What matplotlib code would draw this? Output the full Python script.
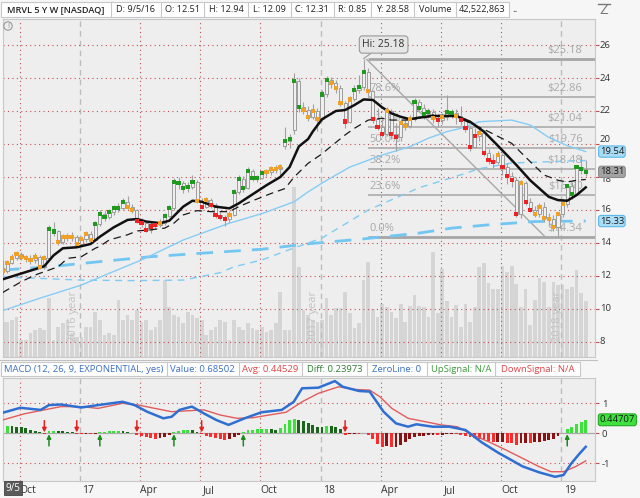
import matplotlib
matplotlib.use('Agg')
import matplotlib.pyplot as plt
from matplotlib.patches import Rectangle, Circle
from matplotlib.transforms import blended_transform_factory

plt.rcParams['font.family'] = ['Open Sans', 'DejaVu Sans']

# ---------------- data (weekly bars, index 0 = week of 9/5/16) ----------------
opens = [12.51, 12.31, 12.80, 13.07, 13.33, 13.17, 13.07, 12.97, 13.13, 12.56,
         13.07, 14.85, 14.70, 14.08, 14.38, 14.38, 14.38, 13.94, 14.22, 14.55,
         14.18, 15.15, 15.76, 15.58, 15.86, 16.10, 16.14, 16.47, 16.20, 16.00,
         15.35, 15.20, 14.77, 15.00, 15.10, 15.23, 15.64, 16.10, 17.72, 17.62,
         17.31, 17.41, 17.72, 16.56, 16.20, 16.60, 16.32, 15.68, 15.60, 15.44,
         15.72, 17.07, 17.90, 17.33, 18.38, 17.94, 17.94, 18.26, 18.32, 18.47,
         18.48, 19.90, 20.18, 20.85, 23.80, 22.24, 22.06, 21.66, 22.00, 21.50,
         23.00, 23.86, 23.72, 23.38, 22.47, 21.36, 22.70, 23.27, 23.44, 24.35,
         23.21, 21.53, 21.05, 20.59, 22.00, 20.59, 20.40, 21.25, 21.09, 21.53,
         22.56, 22.20, 21.80, 21.96, 21.60, 21.45, 21.66, 21.92, 21.90, 21.70,
         21.45, 20.95, 19.84, 20.50, 20.68, 19.47, 19.03, 18.89, 19.33, 18.62,
         18.06, 17.82, 15.74, 17.62, 16.47, 16.00, 15.74, 16.20, 15.50, 15.44,
         14.95, 15.76, 16.35, 17.45, 16.97, 18.62, 18.47]
highs = [12.94, 12.95, 13.35, 13.50, 13.45, 13.30, 13.25, 13.40, 13.25, 13.30,
         15.10, 15.25, 14.80, 14.55, 14.60, 14.65, 14.50, 14.40, 14.75, 14.70,
         15.35, 16.00, 15.95, 16.05, 16.30, 16.40, 16.75, 16.85, 16.35, 16.05,
         15.50, 15.35, 15.30, 15.35, 15.45, 15.80, 16.30, 17.95, 18.00, 17.75,
         17.70, 18.10, 17.80, 16.70, 16.80, 16.75, 16.40, 15.90, 15.70, 15.95,
         17.25, 18.10, 18.05, 18.60, 18.50, 18.15, 18.45, 18.50, 18.65, 18.75,
         18.80, 21.00, 20.60, 24.30, 24.00, 22.55, 22.30, 22.40, 22.20, 23.25,
         24.10, 24.05, 23.90, 23.55, 22.60, 22.90, 23.60, 24.20, 25.18, 24.60,
         23.30, 22.20, 21.60, 22.25, 22.10, 21.30, 21.50, 21.50, 21.75, 22.80,
         22.70, 22.40, 22.20, 22.10, 21.80, 21.90, 22.95, 22.15, 22.10, 22.30,
         21.60, 21.10, 20.95, 21.00, 20.80, 19.70, 19.40, 19.60, 19.45, 18.85,
         18.30, 18.00, 17.80, 17.75, 16.70, 16.25, 16.40, 16.50, 15.80, 15.70,
         15.90, 16.55, 17.60, 17.70, 18.75, 19.25, 19.05]
lows = [12.09, 12.20, 12.70, 12.95, 12.95, 12.85, 12.75, 12.80, 12.40, 12.45,
        13.00, 14.45, 13.90, 13.95, 14.10, 14.15, 13.75, 13.80, 14.05, 14.00,
        14.10, 15.00, 15.35, 15.45, 15.70, 15.90, 16.00, 16.05, 15.80, 15.20,
        14.95, 14.65, 14.60, 14.85, 14.95, 15.10, 15.55, 16.00, 17.30, 17.05,
        17.10, 17.25, 16.40, 16.05, 16.10, 16.15, 15.50, 15.40, 15.05, 15.30,
        15.65, 16.95, 17.10, 17.25, 17.75, 17.70, 17.85, 18.05, 18.15, 18.25,
        18.00, 19.70, 19.75, 20.60, 21.95, 21.80, 21.40, 21.50, 20.80, 21.40,
        22.85, 23.40, 23.10, 22.30, 20.95, 21.30, 22.60, 23.10, 23.30, 22.90,
        21.30, 20.85, 20.40, 20.50, 20.30, 19.60, 20.20, 20.85, 20.95, 21.40,
        21.95, 21.50, 21.60, 21.30, 21.05, 21.20, 21.45, 21.55, 21.20, 21.15,
        20.70, 19.60, 19.75, 20.20, 19.30, 18.80, 18.55, 18.80, 18.10, 17.60,
        17.40, 15.55, 15.50, 16.30, 15.85, 15.55, 15.60, 15.30, 15.10, 14.70,
        14.34, 15.60, 16.20, 16.65, 16.90, 18.20, 18.05]
closes = [12.31, 12.80, 13.07, 13.33, 13.17, 13.07, 12.97, 13.13, 12.56, 13.07,
          14.85, 14.70, 14.08, 14.38, 14.38, 14.38, 13.94, 14.22, 14.55, 14.18,
          15.15, 15.76, 15.58, 15.86, 16.10, 16.14, 16.47, 16.20, 16.00, 15.35,
          15.20, 14.77, 15.00, 15.10, 15.23, 15.64, 16.10, 17.72, 17.62, 17.31,
          17.41, 17.72, 16.56, 16.20, 16.60, 16.32, 15.68, 15.60, 15.44, 15.72,
          17.07, 17.90, 17.33, 18.38, 17.94, 17.94, 18.26, 18.32, 18.47, 18.48,
          18.59, 20.18, 20.32, 23.80, 22.24, 22.06, 21.66, 22.00, 21.50, 23.00,
          23.86, 23.72, 23.38, 22.47, 21.36, 22.70, 23.27, 23.44, 24.35, 23.21,
          21.53, 21.05, 20.59, 22.00, 20.59, 20.40, 21.25, 21.09, 21.53, 22.56,
          22.20, 21.80, 21.96, 21.60, 21.45, 21.66, 21.92, 21.90, 21.70, 21.45,
          20.95, 19.84, 20.50, 20.68, 19.47, 19.03, 18.89, 19.33, 18.62, 18.06,
          17.82, 15.74, 17.62, 16.47, 16.00, 15.74, 16.20, 15.50, 15.44, 14.95,
          15.76, 16.35, 17.45, 16.97, 18.62, 18.47, 18.31]
# dot colour code per bar: O = orange, G = green, R = red
dot_codes = ("OOOOOOOOOO" "GG" "OOOOOOOO" "GGGGGGG" "OO" "RRRRR" "O" "GGGGGGG"
             "O" "R" "O" "RRRR" "O" "GGGGGGG" "OOOO" "GGGG" "OOOO" "GG" "OOO"
             "R" "O" "GGG" "O" "RRR" "O" "RR" "OOO" "GGGG" "O" "R" "O" "GG" "O"
             "RRRR" "O" "RRR" "O" "RRRR" "O" "RR" "OOOOOOO" "GGGGG")
# weekly volume, millions
volume = [42.5, 42.4, 44.8, 48.4, 20.6, 20.6, 29.1, 32.7, 35.1, 32.7,
          71.4, 20.6, 36.3, 41.2, 44.8, 29.1, 24.2, 24.2, 36.3, 36.3,
          54.5, 44.8, 26.6, 29.1, 26.6, 69.0, 44.8, 50.8, 44.8, 56.9,
          42.4, 44.8, 32.7, 36.3, 44.8, 93.2, 60.5, 50.8, 48.4, 41.2,
          54.5, 50.8, 47.2, 44.8, 26.6, 32.7, 36.3, 44.8, 42.4, 20.6,
          44.8, 36.3, 32.7, 41.2, 35.1, 32.7, 36.3, 30.3, 32.7, 41.2,
          78.7, 32.7, 32.7, 205.7, 108.9, 56.9, 50.8, 44.8, 42.4, 44.8,
          71.4, 50.8, 59.3, 59.3, 78.7, 53.2, 35.1, 41.2, 93.2, 115.0,
          58.1, 48.4, 64.1, 60.5, 54.5, 47.2, 64.1, 42.4, 61.7, 75.0,
          61.7, 60.5, 48.4, 127.1, 53.2, 106.5, 67.8, 48.4, 62.9, 36.3,
          64.1, 42.4, 60.5, 108.9, 113.7, 89.5, 82.3, 82.3, 110.1, 102.9,
          110.1, 88.3, 60.5, 82.3, 38.7, 69.0, 95.6, 90.8, 60.5, 90.8,
          87.1, 87.1, 82.3, 84.7, 105.3, 77.4, 67.8]

# moving averages read at selected bars (bar index, value)
ema_fast_idx = [0, 4, 8, 9, 11, 13, 16, 19, 21, 24, 27, 29, 31, 34, 36, 39, 41, 43, 46, 49,
                51, 54, 57, 60, 62, 64, 66, 67, 69, 72, 74, 76, 78, 80, 82, 84, 86, 88, 90,
                93, 96, 98, 101, 104, 107, 111, 114, 118, 120, 122, 124, 126]
ema_fast_val = [11.8, 12.15, 12.5, 12.6, 13.25, 13.68, 13.74, 13.94, 14.38, 14.95, 15.4, 15.45,
                15.3, 15.2, 15.35, 16.2, 16.56, 16.5, 16.2, 16.1, 16.4, 16.95, 17.5, 18.0, 18.6,
                19.85, 20.3, 20.75, 21.5, 22.0, 22.06, 22.36, 22.7, 22.67, 22.22, 21.86, 21.65,
                21.5, 21.6, 21.7, 21.7, 21.7, 21.35, 20.75, 19.9, 18.73, 17.8, 16.8, 16.6, 16.56,
                16.9, 17.37]
ma_dash_idx = [0, 4, 7, 12, 14, 17, 20, 21, 23, 27, 29, 32, 35, 37, 39, 42, 45, 49, 51, 54,
               58, 61, 63, 66, 69, 70, 74, 76, 79, 82, 84, 88, 93, 98, 102, 105, 110, 114,
               117, 120, 122, 124, 126]
ma_dash_val = [11.0, 11.65, 12.06, 12.56, 13.07, 13.17, 13.68, 13.8, 14.18, 14.5, 14.73, 14.8,
               14.9, 15.2, 15.7, 15.96, 15.9, 15.9, 16.2, 16.56, 17.0, 17.3, 18.0, 18.83, 19.4,
               19.64, 20.55, 20.95, 21.45, 21.56, 21.45, 21.45, 21.76, 21.65, 21.15, 20.75,
               20.04, 18.93, 18.12, 17.8, 17.7, 17.8, 17.85]
sma50_idx = [0, 8, 17, 23, 30, 39, 43, 49, 56, 63, 66, 70, 75, 82, 88, 92, 96, 99, 103, 110,
             114, 118, 122, 126]
sma50_val = [9.9, 10.65, 11.45, 12.16, 12.97, 14.18, 14.59, 15.2, 15.78, 16.5, 17.1, 17.8,
             18.6, 19.33, 19.84, 20.35, 20.75, 20.95, 21.35, 21.45, 21.15, 20.4, 19.9, 19.54]
ema100_idx = [0, 4, 17, 28, 39, 47, 50, 56, 62, 69, 79, 90, 97, 103, 110, 126]
ema100_val = [11.95, 11.9, 11.75, 11.72, 11.75, 12.2, 12.56, 12.97, 13.6, 14.3, 16.0, 17.35,
              17.95, 18.5, 18.85, 19.0]
sma200_idx = [0, 10, 21, 32, 43, 56, 66, 78, 90, 97, 105, 115, 126]
sma200_val = [12.36, 12.56, 12.87, 13.17, 13.38, 13.62, 13.95, 14.25, 14.6, 14.9, 15.1, 15.3, 15.33]

# Fibonacci retracement
fib_start = 78.9
fib_levels = [25.18, 22.86, 21.04, 19.76, 18.48, 16.90, 14.34]
fib_pcts = ['', '78.6%', '61.8%', '50.0%', '38.2%', '23.6%', '0.0%']
trend_x = [78.67, 117.2]
trend_y = [25.13, 14.38]

# MACD (12, 26, 9)
macd_idx = [0, 3.8, 8.2, 10, 12.6, 17, 20.6, 25.9, 28.5, 31.2, 34.7, 36.5, 38.2, 40.9, 43.5,
            46.2, 48.8, 52.3, 55.9, 60.3, 62.9, 64.7, 68.2, 71.8, 73.5, 77, 79.3, 82.3, 85,
            87.6, 89.4, 92.9, 96.5, 100, 103.5, 107.1, 110.6, 112.3, 115.9, 119.4, 121.2,
            122.9, 124.7, 126]
macd_val = [0.685, 0.85, 0.78, 0.94, 0.96, 0.86, 0.94, 1.05, 0.94, 0.72, 0.50, 0.55, 0.78,
            0.89, 0.66, 0.44, 0.28, 0.50, 0.70, 0.78, 1.05, 1.50, 1.52, 1.74, 1.55, 1.41, 1.39,
            0.72, 0.33, 0.22, 0.30, 0.22, 0.22, 0.11, -0.30, -0.65, -0.95, -1.10, -1.30,
            -1.45, -1.39, -1.0, -0.67, -0.45]
avg_idx = [0, 4.7, 12.6, 17, 20.6, 25.9, 29.4, 32.9, 36.5, 40, 43.5, 47, 50.6, 54.1, 57.6,
           61.2, 64.7, 68.2, 72.6, 76.2, 79.3, 81.5, 84.1, 87.6, 91.2, 94.7, 98.2, 101.7,
           105.3, 108.8, 112.3, 115.9, 118.5, 121.2, 123.8, 126]
avg_val = [0.445, 0.65, 0.89, 0.89, 0.83, 1.0, 0.94, 0.83, 0.72, 0.75, 0.78, 0.61, 0.50, 0.52,
           0.61, 0.70, 1.05, 1.33, 1.55, 1.46, 1.44, 1.22, 0.83, 0.50, 0.39, 0.28, 0.22, -0.06,
           -0.30, -0.56, -0.83, -1.11, -1.28, -1.28, -1.11, -0.92]
diff = [0.24, 0.24, 0.23, 0.22, 0.20, 0.16, 0.12, 0.08, 0.03, -0.01,
        0.06, 0.09, 0.07, 0.06, 0.05, 0.03, -0.01, -0.02, -0.01, -0.02,
        -0.01, 0.03, 0.04, 0.06, 0.07, 0.07, 0.06, 0.05, 0.02, -0.05,
        -0.10, -0.14, -0.17, -0.18, -0.15, -0.12, -0.06, 0.04, 0.09, 0.12,
        0.12, 0.10, 0.04, -0.03, -0.08, -0.12, -0.17, -0.20, -0.22, -0.18,
        -0.12, -0.05, 0.04, 0.10, 0.12, 0.13, 0.14, 0.14, 0.13, 0.12,
        0.18, 0.30, 0.45, 0.48, 0.45, 0.40, 0.34, 0.27, 0.22, 0.20,
        0.25, 0.24, 0.20, 0.14, -0.05, -0.03, -0.02, -0.03, 0.0, -0.05,
        -0.20, -0.35, -0.45, -0.42, -0.45, -0.45, -0.38, -0.30, -0.20, -0.12,
        -0.10, -0.10, -0.07, -0.06, -0.07, -0.05, -0.03, -0.02, -0.03, -0.05,
        -0.08, -0.12, -0.16, -0.20, -0.24, -0.27, -0.30, -0.30, -0.30, -0.33,
        -0.34, -0.38, -0.32, -0.32, -0.33, -0.30, -0.28, -0.25, -0.22, -0.18,
        -0.10, 0.02, 0.15, 0.22, 0.32, 0.38, 0.45]
diff_last_label = '0.44707'
down_arrows = [9, 16, 29, 43, 74]
up_arrows = [10, 21, 37, 52, 122]

# price axis tick labels
price_ticks = list(range(8, 27, 2))

# time axis
month_weeks = [4, 17, 30, 43, 56, 69, 82, 95, 108, 121]
month_labels = ['Oct', '17', 'Apr', 'Jul', 'Oct', '18', 'Apr', 'Jul', 'Oct', '19']
year_label_x = [15.2, 67.1, 120.0]
year_labels = ['2016 year', '2017 year', '2018 year']

# ---------------- figure ----------------
W, H = 640, 498
fig = plt.figure(figsize=(6.4, 4.98), dpi=100, facecolor='#f6f6f6')


def rect(l, t, r, b):
    return [l / W, 1 - b / H, (r - l) / W, (b - t) / H]


XLIM = (0.065, 128.0)
BG = '#eeeeee'
GRID_RED = '#c25050'

ax_v = fig.add_axes(rect(3, 19, 595, 357))
ax_v.set_xlim(*XLIM)
ax_v.set_ylim(0, 409)
ax_v.axis('off')
ax_v.add_patch(Rectangle((0, 0), 1, 1, transform=ax_v.transAxes, fc=BG, ec='none', zorder=0))
ax_v.bar(range(len(volume)), volume, width=0.8, color='#d5d5d5', zorder=1)

ax = fig.add_axes(rect(3, 19, 595, 357))
ax.patch.set_alpha(0)
ax.set_xlim(*XLIM)
ax.set_ylim(7.09, 27.576)

ax2 = fig.add_axes(rect(3, 378, 595, 481))
ax2.set_facecolor(BG)
ax2.set_xlim(*XLIM)
ax2.set_ylim(-1.59, 1.843)

for a in (ax, ax2):
    for s in a.spines.values():
        s.set_color('#c8c8c8')
        s.set_linewidth(0.8)
    a.yaxis.tick_right()
    a.tick_params(axis='y', length=3, width=0.8, color=GRID_RED, labelsize=6.8,
                  labelcolor='#333333', pad=2)
    for k, w in enumerate(month_weeks):
        if month_labels[k] in ('17', '18', '19'):
            a.axvline(w - 0.3, color='#bcbcbc', lw=1.0, dashes=(4, 3), zorder=1.5)
        else:
            a.axvline(w - 0.3, color=GRID_RED, lw=0.8, dashes=(1, 3), zorder=1.5)

ax.set_xticks([])
ax.set_yticks(price_ticks)
ax.set_yticklabels([])
bt = blended_transform_factory(ax.transAxes, ax.transData)
# tick labels; those next to a value box are nudged aside as the platform does
nudge = {20: 4, 18: -3}
for yv in price_ticks:
    ax.axhline(yv, color=GRID_RED, lw=0.8, dashes=(1, 3), zorder=1.5)
    ax.annotate(str(yv), (1.0, yv), xycoords=bt, xytext=(5, nudge.get(yv, 0)),
                textcoords='offset pixels', ha='left', va='center', fontsize=6.8,
                color='#333333', annotation_clip=False)

# year labels
for xv, t in zip(year_label_x, year_labels):
    ax.text(xv, 8.0, t, rotation=90, ha='center', va='bottom', fontsize=8,
            color='#c2c2c2', zorder=1.6)

# Fibonacci lines
for k, (lv, pc) in enumerate(zip(fib_levels, fib_pcts)):
    lw = 2.0 if k in (0, len(fib_levels) - 1) else 1.1
    ax.plot([fib_start, XLIM[1]], [lv, lv], color='#a6a6a6', lw=lw, zorder=2,
            solid_capstyle='butt')
    if pc:
        ax.annotate(pc, (fib_start + 0.2, lv), xytext=(1, 3), textcoords='offset pixels',
                    ha='left', va='bottom', fontsize=8, color='#a8a8a8', zorder=2.2)
    ax.annotate('$%.2f' % lv, (125.3, lv), xytext=(0, 3), textcoords='offset pixels',
                ha='right', va='bottom', fontsize=8, color='#a8a8a8', zorder=2.2)
ax.plot(trend_x, trend_y, color='#a8a8a8', lw=1.0, zorder=2.1)

# moving averages
ax.plot(sma200_idx, sma200_val, color='#72c6f2', lw=2.0, dashes=(6, 4), zorder=3)
ax.plot(ema100_idx, ema100_val, color='#80cbf4', lw=1.0, dashes=(5, 4), zorder=3)
ax.plot(sma50_idx, sma50_val, color='#85cdf5', lw=1.0, zorder=3)

# candles
n = len(closes)
for i in range(n):
    o, h, l, c = opens[i], highs[i], lows[i], closes[i]
    ax.plot([i, i], [l, h], color='#a2a2a2', lw=0.8, zorder=3.5, solid_capstyle='butt')
    ax.add_patch(Rectangle((i - 0.33, min(o, c)), 0.66, abs(c - o), fc='#efefef',
                           ec='#9c9c9c', lw=0.7, zorder=3.6))

ax.plot(ma_dash_idx, ma_dash_val, color='#1a1a1a', lw=0.9, dashes=(6, 4), zorder=4)
ax.plot(ema_fast_idx, ema_fast_val, color='#111111', lw=1.8, zorder=4.1)

col_map = {'O': '#f0a024', 'G': '#1f9a1f', 'R': '#ee2222'}
ax.scatter(range(n), closes, c=[col_map[k] for k in dot_codes], s=9, marker='s',
           linewidths=0, zorder=5)

# Hi callout
hi_i = highs.index(max(highs))
ax.annotate('Hi: %.2f' % max(highs), (hi_i, max(highs)), xytext=(20, 14),
            textcoords='offset pixels', ha='center', va='center', fontsize=7.5,
            color='#333333', zorder=6,
            bbox=dict(boxstyle='round,pad=0.3,rounding_size=0.3', fc='#e6e6e6',
                      ec='#9a9a9a', lw=0.8),
            arrowprops=dict(arrowstyle='-', color='#9a9a9a', lw=0.8, shrinkA=0, shrinkB=0))

# value boxes at right
for val, fc, ec in [(sma50_val[-1], '#aadcf6', '#5ab8ea'),
                    (closes[-1], '#a3a3a3', '#8a8a8a'),
                    (sma200_val[-1], '#aadcf6', '#5ab8ea')]:
    ax.text(1.008, val, '%.2f' % val, transform=bt, ha='left', va='center', fontsize=6.8,
            color='#1a1a1a', zorder=7, clip_on=False,
            bbox=dict(boxstyle='round,pad=0.12,rounding_size=0.25', fc=fc, ec=ec, lw=0.8))

# ---------------- MACD panel ----------------
ax2.set_yticks([-1, 0, 1])
ax2.set_yticklabels(['-1', '0', '1'])
ax2.axhline(1, color=GRID_RED, lw=0.8, dashes=(1, 3), zorder=1.5)
ax2.axhline(-1, color=GRID_RED, lw=0.8, dashes=(1, 3), zorder=1.5)
ax2.axhline(0, color='#aaaaaa', lw=0.9, zorder=1.6)

hcols = []
for i, v in enumerate(diff):
    prev = diff[i - 1] if i > 0 else v
    if v >= 0:
        hcols.append('#3be23b' if v >= prev else '#1c651c')
    else:
        hcols.append('#ff2b2b' if v < prev else '#8a1212')
ax2.bar(range(len(diff)), diff, width=0.62, color=hcols, zorder=2)
ax2.plot(avg_idx, avg_val, color='#e35b5b', lw=1.0, zorder=3)
ax2.plot(macd_idx, macd_val, color='#2f6fd2', lw=1.8, zorder=3.2)

for w in down_arrows:
    ax2.annotate('', xy=(w, 0.03), xytext=(w, 0.42),
                 arrowprops=dict(arrowstyle='-|>', color='#e52020', lw=1.1,
                                 mutation_scale=6, shrinkA=0, shrinkB=0), zorder=4)
for w in up_arrows:
    ax2.annotate('', xy=(w, -0.03), xytext=(w, -0.42),
                 arrowprops=dict(arrowstyle='-|>', color='#1d8a1d', lw=1.1,
                                 mutation_scale=6, shrinkA=0, shrinkB=0), zorder=4)

bt2 = blended_transform_factory(ax2.transAxes, ax2.transData)
ax2.text(1.008, diff[-1], diff_last_label, transform=bt2, ha='left', va='center', fontsize=6.8,
         color='#1a1a1a', zorder=7, clip_on=False,
         bbox=dict(boxstyle='round,pad=0.15,rounding_size=0.25', fc='#3fe03f', ec='#22aa22', lw=0.8))

ax2.set_xticks([w + 1.5 for w in month_weeks])
ax2.set_xticklabels(month_labels)
ax2.tick_params(axis='x', length=0, labelsize=7.5, labelcolor='#333333', pad=3)

# ---------------- overlay: headers, icons ----------------
ov = fig.add_axes([0, 0, 1, 1])
ov.set_xlim(0, W)
ov.set_ylim(H, 0)
ov.axis('off')
ov.patch.set_alpha(0)

hdr_x = [1, 111, 161, 204, 248, 290.6, 334, 371, 414, 456, 509]
hdr_t = ['MRVL 5 Y W [NASDAQ]', 'D: 9/5/16', 'O: 12.51', 'H: 12.94', 'L: 12.09',
         'C: 12.31', 'R: 0.85', 'Y: 28.58', 'Volume', '42,522,863']
ov.add_patch(Rectangle((1, 2), 508, 15, fc='white', ec='#c8c8c8', lw=0.8))
for k, t in enumerate(hdr_t):
    if k > 0:
        ov.plot([hdr_x[k], hdr_x[k]], [2, 17], color='#c8c8c8', lw=0.8)
    ov.text((hdr_x[k] + hdr_x[k + 1]) / 2, 9.8, t, ha='center', va='center', fontsize=6.6,
            color='#222222', fontweight='semibold' if k == 0 else 'normal')
ov.text(512, 9.8, '..', ha='left', va='center', fontsize=7, color='#333333')
ov.text(604, 10, 'Z', ha='center', va='center', fontsize=11, color='#777777')
ov.plot([598, 610], [4, 4], color='#777777', lw=1.0)

ov.add_patch(Circle((8, 26), 4.2, fill=False, ec='#999999', lw=0.8))
ov.text(8, 26.3, '!', ha='center', va='center', fontsize=5.5, color='#888888')

ov.plot([0, 597], [359.7, 359.7], color='#c0c0c0', lw=0.8)

mac_x = [1, 166.5, 238.8, 302, 367.3, 426.5, 495, 579.6]
mac_t = ['MACD (12, 26, 9, EXPONENTIAL, yes)', 'Value: 0.68502', 'Avg: 0.44529',
         'Diff: 0.23973', 'ZeroLine: 0', 'UpSignal: N/A', 'DownSignal: N/A']
mac_c = ['#3b6fc4', '#3b6fc4', '#e04444', '#2e7d32', '#3b6fc4', '#3d9b3d', '#e04444']
ov.add_patch(Rectangle((1, 362), 578.6, 14, fc='white', ec='#c8c8c8', lw=0.8))
for k, t in enumerate(mac_t):
    if k > 0:
        ov.plot([mac_x[k], mac_x[k]], [362, 376], color='#c8c8c8', lw=0.8)
    ov.text((mac_x[k] + mac_x[k + 1]) / 2, 369.2, t, ha='center', va='center', fontsize=6.8,
            color=mac_c[k])

ov.add_patch(Rectangle((4, 481), 18, 14, fc='#5a5a5a', ec='#444444', lw=0.6))
ov.text(13, 488, '9/5', ha='center', va='center', fontsize=7, color='white')

fig.savefig('out.png', dpi=100, facecolor=fig.get_facecolor())
